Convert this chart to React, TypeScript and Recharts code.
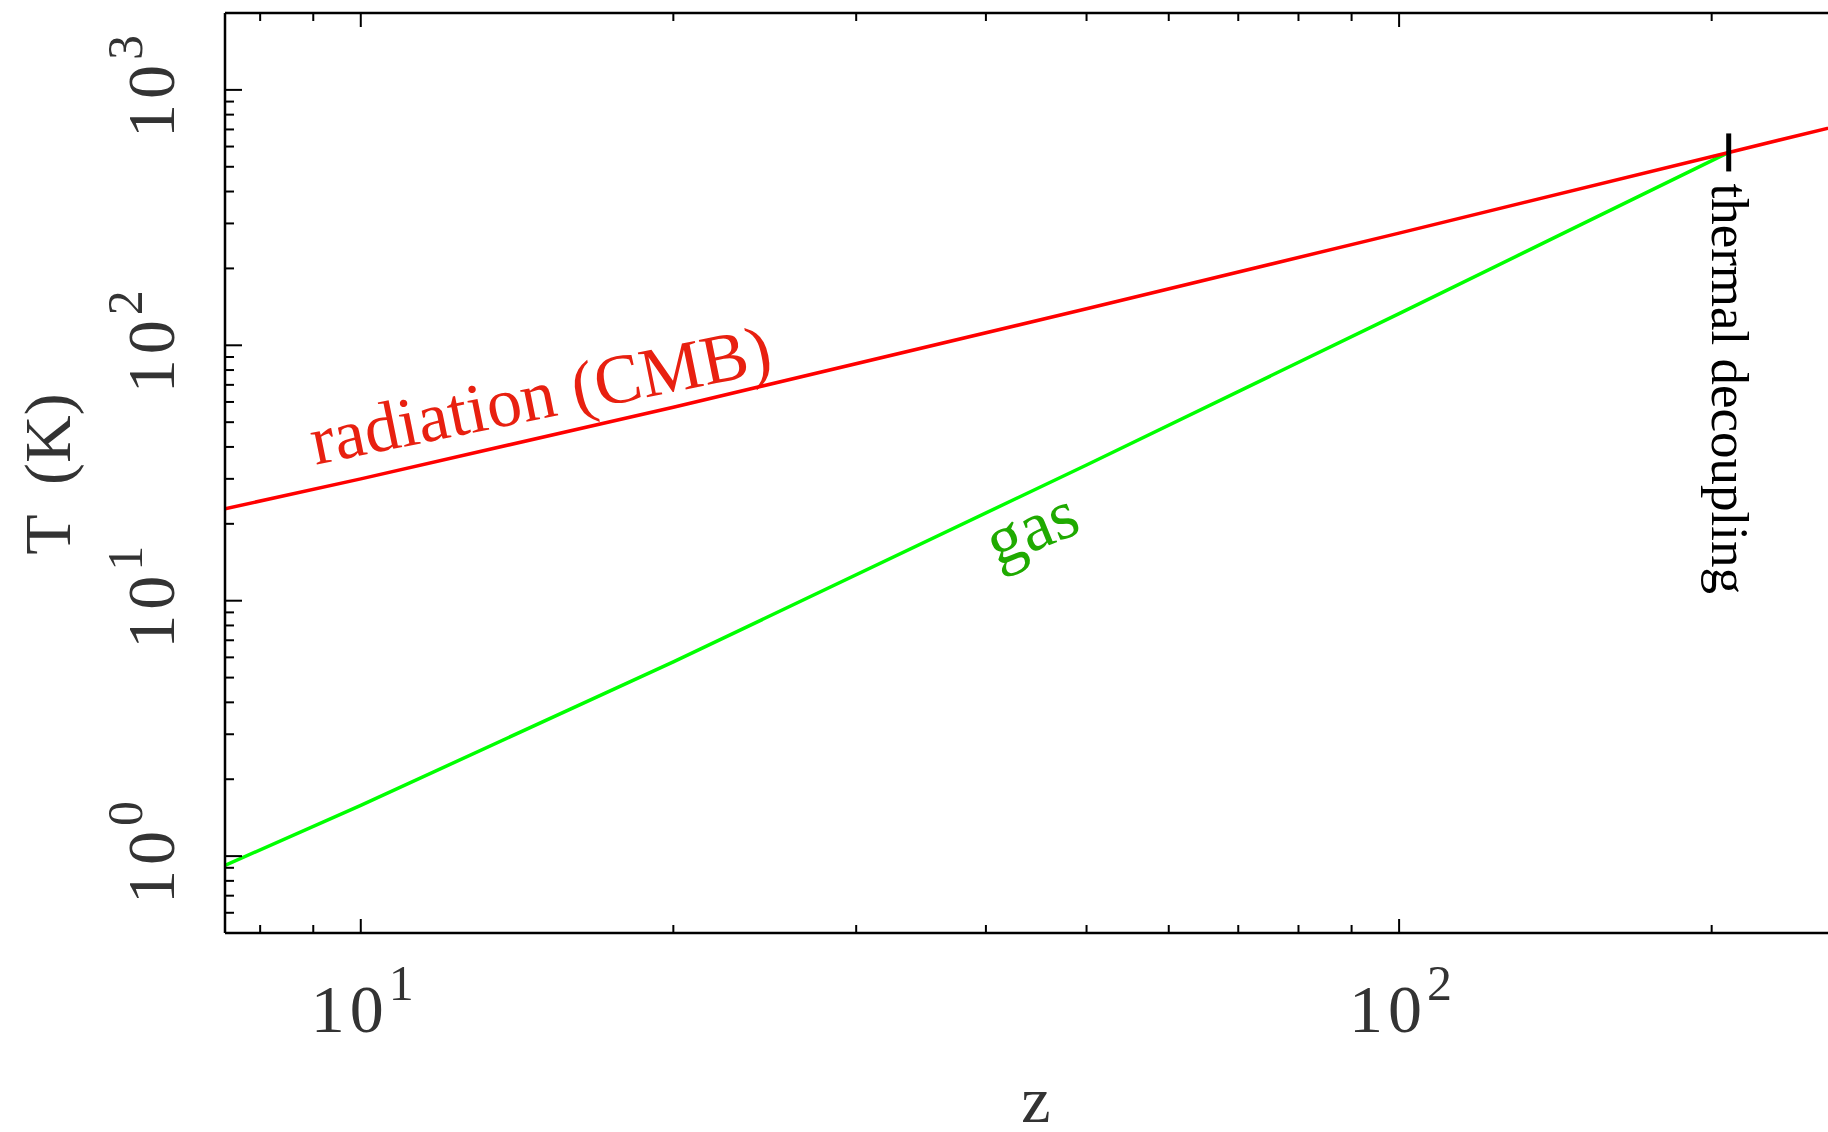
import { LineChart, Line, XAxis, YAxis, ReferenceDot } from "recharts";

// redshift / temperature readings
const radiationZ = [7.4, 10, 20, 50, 100, 207.7, 270];
const radiationT = [22.9, 30.0, 57.2, 139, 275, 569, 738];
const gasZ = [7.4, 10, 20, 50, 100, 150, 207.7];
const gasT = [0.92, 1.58, 5.76, 34.0, 133, 298, 569];
const decouplingZ = 207.7;
const decouplingT = 569;

const zMajor = [10, 100];
const zMinor = [8, 9, 20, 30, 40, 50, 60, 70, 80, 90, 200];
const tMajor = [1, 10, 100, 1000];
const tMinor = [
  0.6, 0.7, 0.8, 0.9, 2, 3, 4, 5, 6, 7, 8, 9, 20, 30, 40, 50, 60, 70, 80, 90,
  200, 300, 400, 500, 600, 700, 800, 900,
];

const zDomain: [number, number] = [7.4, 270];
const tDomain: [number, number] = [0.5, 2000];

const radiationData = radiationZ.map((z, i) => ({ z, T: radiationT[i] }));
const gasData = gasZ.map((z, i) => ({ z, T: gasT[i] }));

const zTicks = [...zMajor, ...zMinor].sort((a, b) => a - b);
const tTicks = [...tMajor, ...tMinor].sort((a, b) => a - b);

const FONT = "'Liberation Serif', 'Times New Roman', serif";
const LABEL_INK = "#333";
const frame = { stroke: "#000", strokeWidth: 2.5 };

const expOf = (v: number) => Math.round(Math.log10(v));

function PowerLabel({ x, y, v, rotate }: { x: number; y: number; v: number; rotate?: number }) {
  return (
    <text
      x={x}
      y={y}
      transform={rotate ? `rotate(${rotate} ${x} ${y})` : undefined}
      fontFamily={FONT}
      fontSize={68}
      letterSpacing={5}
      fill={LABEL_INK}
    >
      10
      <tspan dy={-32} fontSize={50}>
        {expOf(v)}
      </tspan>
    </text>
  );
}

const bottomTick = (props: any) => {
  const { x, y, payload } = props;
  const major = zMajor.includes(payload.value);
  return (
    <g>
      <line x1={x} x2={x} y1={y} y2={y - (major ? 14 : 8)} stroke="#000" strokeWidth={2} />
      {major && <PowerLabel x={x - 50} y={y + 99} v={payload.value} />}
    </g>
  );
};

const topTick = (props: any) => {
  const { x, y, payload } = props;
  const major = zMajor.includes(payload.value);
  return <line x1={x} x2={x} y1={y} y2={y + (major ? 14 : 8)} stroke="#000" strokeWidth={2} />;
};

const leftTick = (props: any) => {
  const { x, y, payload } = props;
  const major = tMajor.includes(payload.value);
  return (
    <g>
      <line x1={x} x2={x + (major ? 17 : 9)} y1={y} y2={y} stroke="#000" strokeWidth={2} />
      {major && <PowerLabel x={x - 51} y={y + 48} v={payload.value} rotate={-90} />}
    </g>
  );
};

const rightTick = (props: any) => {
  const { x, y, payload } = props;
  const major = tMajor.includes(payload.value);
  return <line x1={x} x2={x - (major ? 17 : 9)} y1={y} y2={y} stroke="#000" strokeWidth={2} />;
};

const decouplingMark = (p: any) => (
  <g>
    <rect x={p.cx - 2.5} y={p.cy - 19} width={5} height={38} fill="#000" />
    <text
      x={p.cx - 17}
      y={p.cy + 31}
      transform={`rotate(90 ${p.cx - 17} ${p.cy + 31})`}
      fontFamily={FONT}
      fontSize={53}
      fill="#000"
    >
      thermal decoupling
    </text>
  </g>
);

export default function App() {
  return (
    <div
      style={{
        position: "absolute",
        left: 0,
        top: 0,
        width: 1828,
        height: 1132,
        overflow: "hidden",
        background: "#fff",
      }}
    >
      <LineChart width={1900} height={1132} margin={{ top: 0, right: 0, bottom: 0, left: 0 }}>
        <XAxis
          xAxisId="bottom"
          dataKey="z"
          type="number"
          scale="log"
          domain={zDomain}
          allowDataOverflow
          ticks={zTicks}
          interval={0}
          tickSize={0}
          tickMargin={0}
          tickLine={false}
          tick={bottomTick}
          axisLine={frame}
          height={199}
        />
        <XAxis
          xAxisId="top"
          orientation="top"
          dataKey="z"
          type="number"
          scale="log"
          domain={zDomain}
          allowDataOverflow
          ticks={zTicks}
          interval={0}
          tickSize={0}
          tickMargin={0}
          tickLine={false}
          tick={topTick}
          axisLine={frame}
          height={13}
        />
        <YAxis
          yAxisId="left"
          type="number"
          scale="log"
          domain={tDomain}
          allowDataOverflow
          ticks={tTicks}
          interval={0}
          tickSize={0}
          tickMargin={0}
          tickLine={false}
          tick={leftTick}
          axisLine={frame}
          width={225}
        />
        <YAxis
          yAxisId="right"
          orientation="right"
          type="number"
          scale="log"
          domain={tDomain}
          allowDataOverflow
          ticks={tTicks}
          interval={0}
          tickSize={0}
          tickMargin={0}
          tickLine={false}
          tick={rightTick}
          axisLine={frame}
          width={53}
        />
        <Line
          xAxisId="bottom"
          yAxisId="left"
          data={gasData}
          dataKey="T"
          type="linear"
          stroke="#00ff00"
          strokeWidth={3.5}
          dot={false}
          isAnimationActive={false}
        />
        <Line
          xAxisId="bottom"
          yAxisId="left"
          data={radiationData}
          dataKey="T"
          type="linear"
          stroke="#ff0000"
          strokeWidth={3.5}
          dot={false}
          isAnimationActive={false}
        />
        <ReferenceDot
          xAxisId="bottom"
          yAxisId="left"
          x={decouplingZ}
          y={decouplingT}
          shape={decouplingMark}
        />
        <text
          x={545}
          y={418}
          transform="rotate(-11.5 545 418)"
          textAnchor="middle"
          fontFamily={FONT}
          fontSize={70}
          fill="#e82010"
        >
          radiation (CMB)
        </text>
        <text
          x={1040}
          y={549}
          transform="rotate(-22 1040 549)"
          textAnchor="middle"
          fontFamily={FONT}
          fontSize={70}
          fill="#1faa00"
        >
          gas
        </text>
        <text
          x={70}
          y={474}
          transform="rotate(-90 70 474)"
          textAnchor="middle"
          fontFamily={FONT}
          fontSize={66}
          fill={LABEL_INK}
          style={{ wordSpacing: 14 }}
        >
          T (K)
        </text>
        <text x={1036} y={1122} textAnchor="middle" fontFamily={FONT} fontSize={66} fill={LABEL_INK}>
          z
        </text>
      </LineChart>
    </div>
  );
}
